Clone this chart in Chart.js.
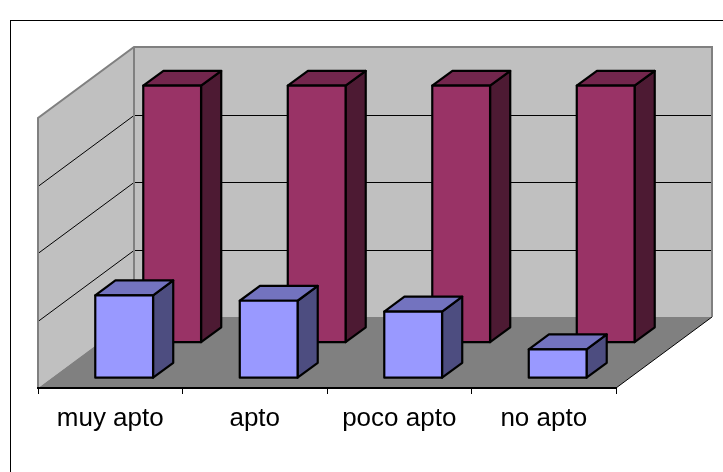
<!DOCTYPE html>
<html>
<head>
<meta charset="utf-8">
<script src="https://cdn.jsdelivr.net/npm/chart.js@4/dist/chart.umd.min.js"></script>
<style>
  html, body { margin: 0; padding: 0; background: #fff; overflow: hidden; }
  #wrap { width: 723px; height: 472px; position: relative; }
</style>
</head>
<body>
<div id="wrap"><canvas id="c" width="723" height="472"></canvas></div>
<script>
// Categories and values
const categories = ['muy apto', 'apto', 'poco apto', 'no apto'];
const frontValues = [6.1, 5.7, 4.9, 2.1];
const backValues = [19, 19, 19, 19];
const valueTicks = [0, 5, 10, 15, 20];

// Oblique depth of the floor (pixels) and the depth slot of each row
const DEPTH = { x: 96, y: -71 };
const ROWS = [
  { from: 0.145, to: 0.355 },   // front row (dataset 0)
  { from: 0.645, to: 0.855 }    // back row (dataset 1)
];
const FACES = [
  { front: '#9999FF', top: '#7373BF', side: '#4D4D80' },
  { front: '#993366', top: '#73264D', side: '#4D1A33' }
];

function poly(ctx, pts) {
  ctx.beginPath();
  ctx.moveTo(pts[0][0], pts[0][1]);
  for (let i = 1; i < pts.length; i++) ctx.lineTo(pts[i][0], pts[i][1]);
  ctx.closePath();
}

function drawBox(ctx, x0, x1, yTop, yBot, off, d, c) {
  const L = x0 + off.x, R = x1 + off.x, T = yTop + off.y, B = yBot + off.y;
  ctx.lineWidth = 2.2;
  ctx.lineJoin = 'round';
  ctx.strokeStyle = '#000';
  // right side face
  poly(ctx, [[R, T], [R + d.x, T + d.y], [R + d.x, B + d.y], [R, B]]);
  ctx.fillStyle = c.side; ctx.fill(); ctx.stroke();
  // top face
  poly(ctx, [[L, T], [R, T], [R + d.x, T + d.y], [L + d.x, T + d.y]]);
  ctx.fillStyle = c.top; ctx.fill(); ctx.stroke();
  // front face
  poly(ctx, [[L, T], [R, T], [R, B], [L, B]]);
  ctx.fillStyle = c.front; ctx.fill(); ctx.stroke();
}

// Walls, floor and gridlines of the 3D plot box
const box3d = {
  id: 'box3d',
  beforeDraw(chart) {
    const ctx = chart.ctx;
    const xs = chart.scales.x, ys = chart.scales.y;
    const L = xs.left, R = xs.right;
    const B = ys.getPixelForValue(valueTicks[0]);
    const T = ys.getPixelForValue(valueTicks[valueTicks.length - 1]);
    const dx = DEPTH.x, dy = DEPTH.y;
    ctx.save();

    // outer frame
    ctx.strokeStyle = '#000';
    ctx.lineWidth = 1;
    ctx.strokeRect(10.5, 20.5, chart.width + 20, chart.height + 20);

    // back wall
    ctx.fillStyle = '#C0C0C0';
    poly(ctx, [[L + dx, T + dy], [R + dx, T + dy], [R + dx, B + dy], [L + dx, B + dy]]);
    ctx.fill();
    // side wall
    poly(ctx, [[L, B], [L, T], [L + dx, T + dy], [L + dx, B + dy]]);
    ctx.fill();
    // floor
    ctx.fillStyle = '#808080';
    poly(ctx, [[L, B], [R, B], [R + dx, B + dy], [L + dx, B + dy]]);
    ctx.fill();

    // gridlines across the side and back walls
    ctx.strokeStyle = '#000';
    ctx.lineWidth = 1;
    valueTicks.slice(1, -1).forEach(v => {
      const y = Math.round(ys.getPixelForValue(v)) + 0.5;
      ctx.beginPath();
      ctx.moveTo(L, y);
      ctx.lineTo(L + dx, y + dy);
      ctx.lineTo(R + dx, y + dy);
      ctx.stroke();
    });

    // floor right edge
    ctx.beginPath();
    ctx.moveTo(R, B);
    ctx.lineTo(R + dx, B + dy);
    ctx.stroke();

    // wall edges
    ctx.strokeStyle = '#808080';
    ctx.lineWidth = 2;
    ctx.lineJoin = 'miter';
    ctx.beginPath();
    ctx.moveTo(L, B);
    ctx.lineTo(L, T);
    ctx.lineTo(L + dx, T + dy);
    ctx.lineTo(R + dx, T + dy);
    ctx.lineTo(R + dx, B + dy);
    ctx.moveTo(L + dx, T + dy);
    ctx.lineTo(L + dx, B + dy);
    ctx.stroke();

    ctx.restore();
  },
  beforeDatasetsDraw(chart) {
    const ctx = chart.ctx;
    ctx.save();
    for (let i = chart.data.datasets.length - 1; i >= 0; i--) {
      const meta = chart.getDatasetMeta(i);
      const row = ROWS[i];
      const off = { x: DEPTH.x * row.from, y: DEPTH.y * row.from };
      const d = { x: DEPTH.x * (row.to - row.from), y: DEPTH.y * (row.to - row.from) };
      meta.data.forEach(bar => {
        const p = bar.getProps(['x', 'y', 'base', 'width'], true);
        drawBox(ctx, p.x - p.width / 2, p.x + p.width / 2, p.y, p.base, off, d, FACES[i]);
      });
    }
    ctx.restore();
    return false;
  }
};

new Chart(document.getElementById('c'), {
  type: 'bar',
  data: {
    labels: categories,
    datasets: [
      { label: 'Serie 1', data: frontValues, backgroundColor: FACES[0].front },
      { label: 'Serie 2', data: backValues, backgroundColor: FACES[1].front }
    ]
  },
  options: {
    responsive: false,
    animation: false,
    events: [],
    layout: { padding: { left: 38, right: 107, top: 118, bottom: 28.8 } },
    plugins: { legend: { display: false }, tooltip: { enabled: false }, title: { display: false } },
    datasets: { bar: { grouped: false, barPercentage: 0.4, categoryPercentage: 1 } },
    scales: {
      x: {
        grid: { display: true, drawOnChartArea: false, drawTicks: true, tickLength: 6, color: '#000', lineWidth: 1 },
        border: { display: true, color: '#000', width: 2 },
        ticks: {
          color: '#000',
          padding: 9,
          maxRotation: 0,
          autoSkip: false,
          font: { family: "'Liberation Sans', Arial, sans-serif", size: 26 }
        }
      },
      y: {
        display: false,
        min: valueTicks[0],
        max: valueTicks[valueTicks.length - 1],
        ticks: { stepSize: 5 }
      }
    }
  },
  plugins: [box3d]
});
</script>
</body>
</html>
